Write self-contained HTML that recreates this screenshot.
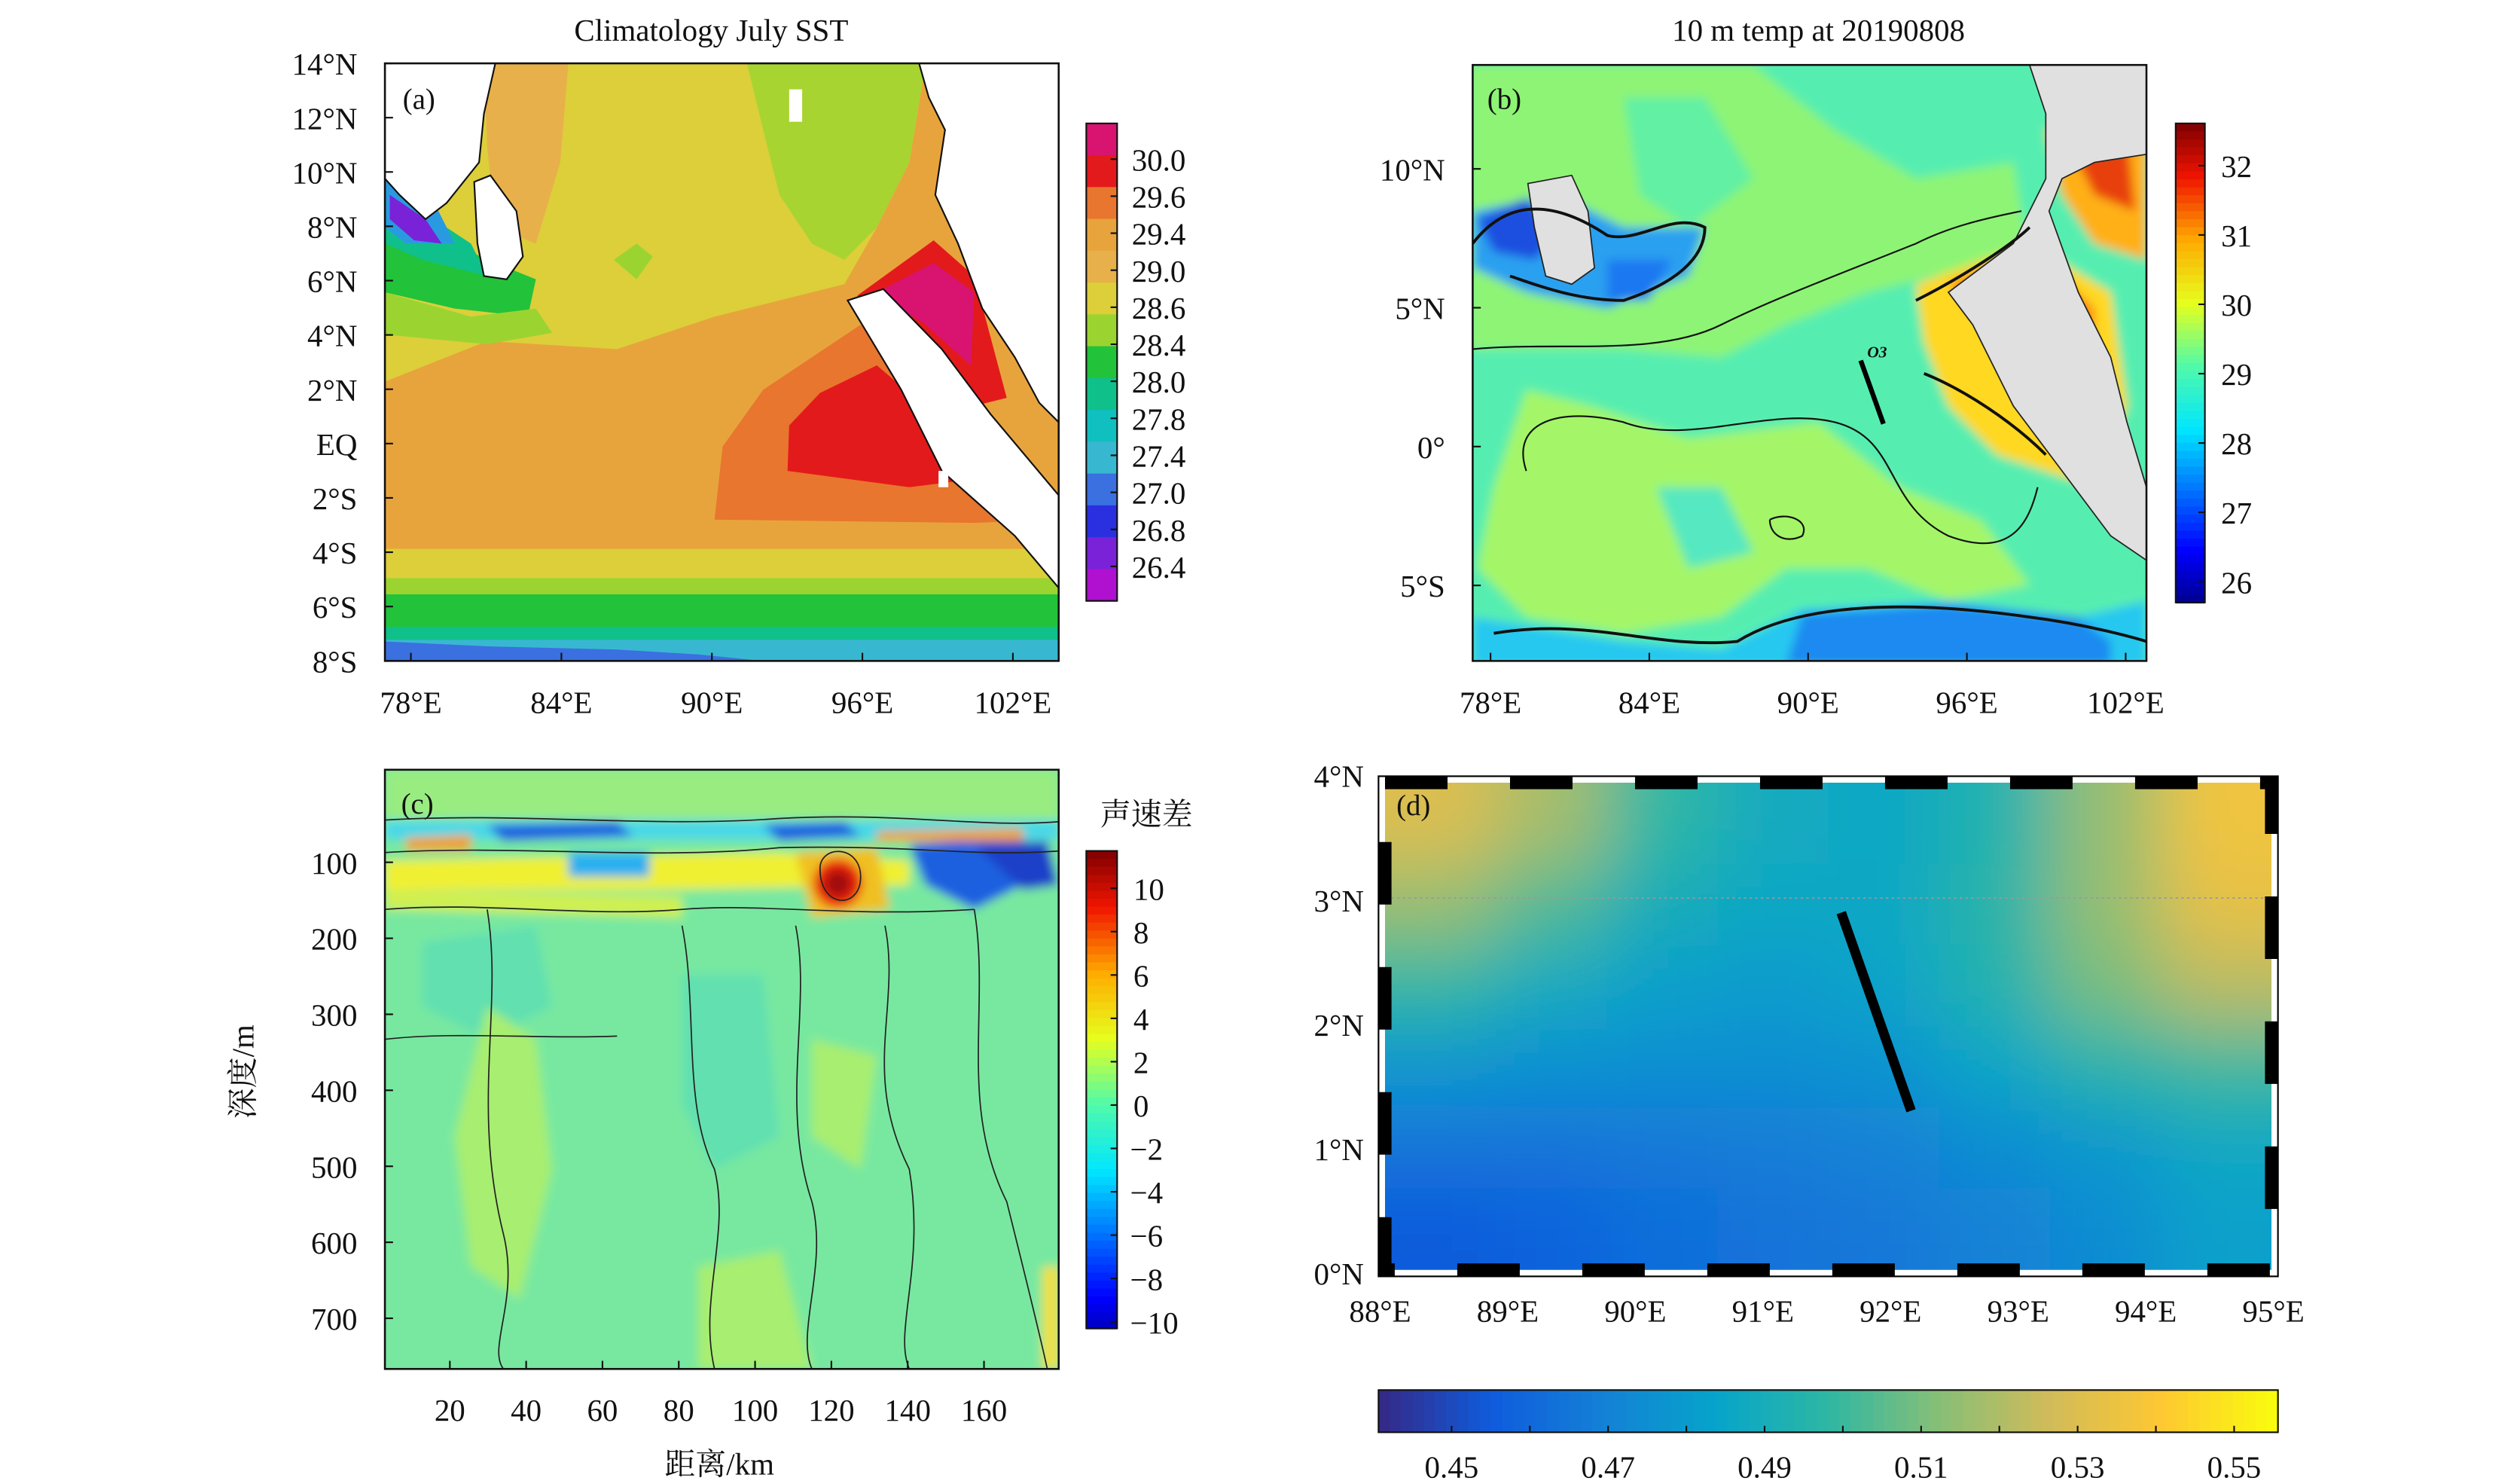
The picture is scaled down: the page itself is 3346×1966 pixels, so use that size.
<!DOCTYPE html>
<html><head><meta charset="utf-8">
<style>
html,body{margin:0;padding:0;background:#fff;}
svg{display:block;}
text{font-family:"Liberation Serif","Noto Serif CJK SC",serif;fill:#111;}
</style></head>
<body>
<svg id="fig" width="3346" height="1966" viewBox="0 0 1552 912" xmlns="http://www.w3.org/2000/svg">
<defs>
<filter id="blurA" x="-5%" y="-5%" width="110%" height="110%"><feGaussianBlur stdDeviation="3"/></filter>
<filter id="blurD" filterUnits="userSpaceOnUse" x="700" y="350" width="850" height="560"><feGaussianBlur stdDeviation="22"/></filter>
<clipPath id="clipA"><rect x="237" y="39" width="415" height="368"/></clipPath>
<clipPath id="clipB"><rect x="907" y="40" width="415" height="367"/></clipPath>
<clipPath id="clipC"><rect x="237" y="474" width="415" height="369"/></clipPath>
<clipPath id="clipD"><rect x="853" y="482" width="546" height="300"/></clipPath>
</defs>

<!-- ============ PANEL A ============ -->
<g id="panelA">
<text x="438" y="25" font-size="19" text-anchor="middle">Climatology July SST</text>
<g clip-path="url(#clipA)">
<rect x="237" y="39" width="415" height="368" fill="#e8a43c"/>
<polygon fill="#dccf3a" points="237,39 570,39 560,100 540,140 520,175 440,195 380,215 300,210 237,235"/>
<polygon fill="#e8b04a" points="298,39 350,39 345,100 330,150 305,140 300,90"/>
<polygon fill="#a8d431" points="460,39 570,39 560,100 540,140 520,160 500,150 480,120 470,80"/>
<polygon fill="#9bd431" points="378,160 392,150 402,158 392,172"/>
<polygon fill="#e8a43c" points="580,80 652,70 652,160 620,150 600,120"/>
<polygon fill="#e8762e" points="440,320 445,275 470,240 530,200 580,240 640,300 652,320 600,322"/>
<polygon fill="#e31a1c" points="485,290 486,262 505,242 540,225 575,255 600,295 560,300"/>
<polygon fill="#e31a1c" points="528,182 575,148 600,170 620,245 600,250"/>
<polygon fill="#d81470" points="540,180 575,162 600,180 598,225 570,200"/>
<polygon fill="#e8762e" points="590,95 620,90 652,130 652,200 630,190"/>
<polygon fill="#e31a1c" points="600,110 625,110 645,150 645,185 620,150"/>
<rect x="237" y="338" width="415" height="20" fill="#dccf3a"/>
<rect x="237" y="356" width="415" height="12" fill="#9bd431"/>
<rect x="237" y="366" width="415" height="22" fill="#22c23a"/>
<rect x="237" y="386" width="415" height="10" fill="#10c08a"/>
<rect x="237" y="394" width="415" height="13" fill="#38b8d0"/>
<polygon fill="#3a70e0" points="237,395 300,398 380,400 430,403 470,407 237,407"/>
<polygon fill="#22c23a" points="237,130 260,140 300,160 330,172 325,195 280,190 237,180"/>
<polygon fill="#9bd431" points="237,180 290,195 330,190 340,205 300,212 237,206"/>
<polygon fill="#10c08a" points="237,115 290,150 300,170 260,160 237,150"/>
<polygon fill="#2a9ae0" points="237,110 270,130 280,150 250,150 237,140"/>
<polygon fill="#7a22d8" points="240,120 262,135 272,150 255,148 240,135"/>
<polygon fill="#fff" stroke="#111" stroke-width="1" points="237,39 305,39 298,70 295,100 275,125 262,135 246,120 237,110"/>
<polygon fill="#fff" stroke="#111" stroke-width="1" points="292,112 302,108 318,130 322,158 312,172 298,170 294,150"/>
<polygon fill="#fff" stroke="#111" stroke-width="1" points="566,39 652,39 652,260 640,248 625,220 605,190 590,150 576,120 582,80 572,60"/>
<polygon fill="#fff" stroke="#111" stroke-width="1" points="522,185 544,178 580,215 610,255 652,305 652,362 625,330 580,290 555,240"/>
<polygon fill="#fff" points="486,55 494,55 494,75 486,75"/>
<polygon fill="#fff" points="578,290 584,290 584,300 578,300"/>
</g>
<rect x="237" y="39" width="415" height="368" fill="none" stroke="#111" stroke-width="1.2"/>
<text x="248" y="67" font-size="18">(a)</text>
<g id="axA"></g>
<g id="cbA"></g>
</g>

<!-- ============ PANEL B ============ -->
<g id="panelB">
<text x="1120" y="25" font-size="19" text-anchor="middle">10 m temp at 20190808</text>
<g clip-path="url(#clipB)">
<g filter="url(#blurA)">
<rect x="890" y="30" width="445" height="390" fill="#56eeb0"/>
<polygon fill="#8ef474" points="960,40 1080,40 1130,80 1180,110 1240,100 1250,160 1190,170 1150,180 1100,200 1060,220 1000,215 920,215 905,215 905,40"/>
<polygon fill="#62f0a4" points="1000,60 1050,60 1080,110 1040,140 1010,120"/>
<polygon fill="#a4f668" points="940,240 980,250 1040,270 1120,260 1170,300 1220,320 1250,360 1200,370 1150,350 1100,350 1060,380 1000,390 940,380 910,350 920,300"/>
<polygon fill="#56e8c0" points="1020,300 1060,300 1080,340 1040,350"/>
<polygon fill="#2aa0f0" points="907,130 960,120 1000,140 1050,140 1040,170 990,190 940,180 907,165"/>
<polygon fill="#1a50e0" points="910,135 940,122 960,145 945,160 920,155"/>
<polygon fill="#1a78f0" points="990,160 1030,160 1015,185 990,185"/>
<polygon fill="#28c8f0" points="907,380 1000,395 1060,400 1110,375 1200,370 1280,380 1322,370 1322,410 907,410"/>
<polygon fill="#1a8af0" points="1110,378 1200,372 1280,380 1300,395 1300,410 1100,410"/>
<polygon fill="#ffd824" points="1180,175 1250,150 1300,180 1310,250 1290,300 1230,280 1200,250 1185,210"/>
<polygon fill="#ff8a10" points="1200,175 1250,150 1290,190 1290,230 1260,240 1230,210"/>
<polygon fill="#e82a10" points="1230,160 1260,150 1285,200 1265,215 1245,190"/>
<polygon fill="#ffb018" points="1260,80 1322,60 1322,160 1290,150 1270,120"/>
<polygon fill="#e84010" points="1275,90 1310,80 1315,130 1290,120"/>
</g>
<polygon fill="#e0e0e0" stroke="#222" stroke-width="0.8" points="941,113 968,108 978,130 982,165 968,175 952,170 945,140"/>
<polygon fill="#e0e0e0" stroke="#222" stroke-width="0.8" points="1250,40 1322,40 1322,95 1290,100 1270,110 1262,130 1280,180 1300,220 1310,260 1322,300 1322,345 1300,330 1270,290 1240,250 1215,200 1200,180 1240,150 1260,110 1260,70"/>
<polygon fill="#e0e0e0" points="1300,40 1322,40 1322,80 1305,70"/>
<g fill="none" stroke="#111" stroke-width="1">
<path d="M907,215 C960,210 1020,220 1060,200 C1090,185 1130,170 1180,150 C1200,140 1220,135 1245,130"/>
<path d="M940,290 C930,260 960,250 1000,260 C1040,275 1090,250 1130,260 C1170,270 1160,310 1200,330 C1240,345 1250,320 1255,300"/>
<path d="M920,390 C980,380 1020,400 1070,395 C1110,370 1180,370 1250,380 C1290,385 1322,395 1322,395" stroke-width="1.8"/>
<path d="M907,150 C930,120 960,125 990,145 C1010,150 1030,130 1050,140 C1050,160 1030,175 1000,185 C970,185 945,175 930,170" stroke-width="1.8"/>
<path d="M1180,185 C1210,170 1240,150 1250,140 M1185,230 C1210,240 1240,260 1260,280" stroke-width="1.8"/>
<path d="M1090,320 C1100,315 1115,320 1110,330 C1100,335 1090,330 1090,320"/>
</g>
<line x1="1146" y1="222" x2="1160" y2="261" stroke="#000" stroke-width="3"/>
<text x="1150" y="220" font-size="10" font-style="italic" font-weight="bold">O3</text>
</g>
<rect x="907" y="40" width="415" height="367" fill="none" stroke="#111" stroke-width="1.2"/>
<text x="916" y="67" font-size="18">(b)</text>
<g id="axB"></g>
<g id="cbB"></g>
</g>

<!-- ============ PANEL C ============ -->
<g id="panelC">
<g clip-path="url(#clipC)">
<g filter="url(#blurA)">
<rect x="225" y="465" width="440" height="390" fill="#78e8a0"/>
<polygon fill="#98ec80" points="237,474 652,474 652,505 237,505"/>
<polygon fill="#62e0b0" points="260,580 330,570 340,620 300,640 260,620"/>
<polygon fill="#62e0b0" points="420,600 470,600 480,700 440,720 420,680"/>
<polygon fill="#a8ee70" points="300,620 330,640 340,720 320,800 290,780 280,700"/>
<polygon fill="#a8ee70" points="430,780 480,770 500,843 430,843"/>
<polygon fill="#a8ee70" points="500,640 540,650 530,720 500,700"/>
<rect x="237" y="505" width="415" height="12" fill="#4ad8e8"/>
<polygon fill="#1a60e0" points="300,508 380,506 390,515 310,518"/>
<polygon fill="#1a60e0" points="470,508 520,506 530,515 480,518"/>
<polygon fill="#1a60e0" points="560,520 630,515 640,540 600,560 570,545"/>
<polygon fill="#1a40c8" points="600,520 645,518 652,545 630,548"/>
<polygon fill="#f0f030" points="237,530 480,525 560,530 560,545 400,548 237,548"/>
<polygon fill="#d0f050" points="237,548 420,552 420,565 237,560"/>
<polygon fill="#f0a020" points="250,516 290,514 290,524 250,524"/>
<polygon fill="#f0a020" points="540,512 630,510 630,518 540,518"/>
<polygon fill="#2ab0f0" points="350,525 400,525 400,540 350,540"/>
<polygon fill="#f0c020" points="490,525 540,522 548,560 500,565"/>
<circle cx="516" cy="544" r="15" fill="#e82010"/>
<circle cx="516" cy="544" r="8" fill="#a00808"/>
<rect x="642" y="780" width="10" height="63" fill="#f0e040"/>
</g>
<g fill="none" stroke="#222" stroke-width="0.8">
<path d="M237,505 C320,500 400,510 480,504 C560,500 600,510 652,506"/>
<path d="M237,525 C320,520 400,530 480,522 C560,520 600,528 652,524"/>
<path d="M237,560 C300,555 360,565 420,560 C470,556 520,565 600,560"/>
<path d="M237,640 C280,635 330,640 380,638"/>
<path d="M300,560 C310,620 290,680 310,760 C320,800 300,830 310,843"/>
<path d="M420,570 C430,620 420,680 440,720 C450,760 430,800 440,843"/>
<path d="M490,570 C500,620 480,680 500,740 C510,780 490,820 500,843"/>
<path d="M545,570 C555,620 530,660 560,720 C570,780 550,820 560,843"/>
<path d="M600,560 C610,620 590,680 620,740 C630,780 640,820 645,843"/>
<path d="M505,535 C505,520 530,520 530,540 C530,560 505,560 505,535"/>
</g>
</g>
<rect x="237" y="474" width="415" height="369" fill="none" stroke="#111" stroke-width="1.2"/>
<text x="247" y="501" font-size="18">(c)</text>
<text x="443" y="908" font-size="19" text-anchor="middle">距离/km</text>
<text x="0" y="0" font-size="19" text-anchor="middle" transform="translate(156,660) rotate(-90)">深度/m</text>
<text x="706" y="508" font-size="19" text-anchor="middle">声速差</text>
<g id="axC"></g>
<g id="cbC"></g>
</g>

<!-- ============ PANEL D ============ -->
<g id="panelD">
<rect x="849" y="478" width="554" height="308" fill="#fff"/>
<g clip-path="url(#clipD)"><g id="heatD" filter="url(#blurD)"></g></g>
<rect x="853" y="482" width="546" height="300" fill="none" stroke="#000" stroke-width="8" stroke-dasharray="38.5 38.5"/>
<rect x="849" y="478" width="554" height="308" fill="none" stroke="#000" stroke-width="1"/>
<line x1="857" y1="553" x2="1395" y2="553" stroke="#999" stroke-width="0.8" stroke-dasharray="1.5 2"/>
<line x1="1134" y1="562" x2="1177" y2="684" stroke="#000" stroke-width="6"/>
<text x="860" y="502" font-size="18">(d)</text>
<g id="axD"></g>
<g id="cbD"></g>
</g>
</svg>

<script>
// ---------- data arrays ----------
const aLonTicks = [78, 84, 90, 96, 102];
const aLatTicks = ["14°N","12°N","10°N","8°N","6°N","4°N","2°N","EQ","2°S","4°S","6°S","8°S"];
const aCbarLabels = ["30.0","29.6","29.4","29.0","28.6","28.4","28.0","27.8","27.4","27.0","26.8","26.4"];
const aCbarColors = ["#d81470","#e31a1c","#e8762e","#e8a43c","#e8b04a","#dccf3a","#9bd431","#22c23a","#10c08a","#10c0c0","#38b8d0","#3a70e0","#2a30e0","#7a22d8","#b010d0"];
const bLonTicks = [78, 84, 90, 96, 102];
const bLatTicks = [10, 5, 0, -5];
const bCbarTicks = [32, 31, 30, 29, 28, 27, 26];
const cDistTicks = [20, 40, 60, 80, 100, 120, 140, 160];
const cDepthTicks = [100, 200, 300, 400, 500, 600, 700];
const cCbarTicks = [10, 8, 6, 4, 2, 0, -2, -4, -6, -8, -10];
const dLonTicks = [88, 89, 90, 91, 92, 93, 94, 95];
const dLatTicks = [4, 3, 2, 1, 0];
const dCbarTicks = [0.45, 0.47, 0.49, 0.51, 0.53, 0.55];
const dCbarMinorTicks = [0.46, 0.48, 0.50, 0.52, 0.54];
const dGrid = [
  [0.530,0.518,0.498,0.488,0.486,0.494,0.515,0.536],
  [0.515,0.503,0.490,0.486,0.486,0.496,0.515,0.533],
  [0.498,0.488,0.482,0.480,0.484,0.494,0.510,0.522],
  [0.478,0.476,0.475,0.475,0.477,0.485,0.495,0.500],
  [0.464,0.464,0.466,0.468,0.470,0.474,0.479,0.486],
  [0.455,0.458,0.462,0.464,0.466,0.470,0.474,0.482]
];

const NS = "http://www.w3.org/2000/svg";
function mk(tag, attrs, parent, txt){
  const e = document.createElementNS(NS, tag);
  for (const k in attrs) e.setAttribute(k, attrs[k]);
  if (txt !== undefined) e.textContent = txt;
  parent.appendChild(e);
  return e;
}
function lerpColor(stops, t){
  t = Math.max(0, Math.min(1, t));
  for (let i = 0; i < stops.length - 1; i++){
    const a = stops[i], b = stops[i+1];
    if (t <= b[0]){
      const u = (t - a[0]) / (b[0] - a[0]);
      const c = [0,1,2].map(j => Math.round(a[1][j] + (b[1][j]-a[1][j])*u));
      return "rgb(" + c.join(",") + ")";
    }
  }
  const l = stops[stops.length-1][1];
  return "rgb(" + l.join(",") + ")";
}
const jet = [[0,[0,0,130]],[0.12,[0,0,255]],[0.37,[0,230,255]],[0.5,[80,250,170]],[0.63,[230,255,30]],[0.76,[255,170,0]],[0.89,[240,20,0]],[1,[128,0,0]]];
const parula = [[0,[53,42,135]],[0.125,[15,92,221]],[0.25,[20,129,214]],[0.375,[6,164,202]],[0.5,[46,183,164]],[0.625,[135,191,119]],[0.75,[209,187,89]],[0.875,[254,200,50]],[1,[249,251,14]]];

// ---------- axis functions ----------
const xA = lon => 253 + (lon - 78) * 15.45;
const yA = i => 39 + i * 33.45;
const xB = lon => 918 + (lon - 78) * 16.3;
const yB = lat => 275 - lat * 17.1;
const xC = d => 277 + (d - 20) * 2.35;
const yC = z => 531 + (z - 100) * 0.468;
const xD = lon => 850 + (lon - 88) * 78.6;
const yD = lat => 784 - lat * 76.6;
const xDc = v => 894 + (v - 0.45) * 4820;

function tickText(g, x, y, s, anchor, name){
  const t = mk("text", {x:x, y:y, "font-size":19, "text-anchor":anchor}, g, s);
  
  
  return t;
}

// Panel A axes
(function(){
  const g = document.getElementById("axA");
  aLonTicks.forEach(v => {
    mk("line", {x1:xA(v), y1:407, x2:xA(v), y2:402, stroke:"#111"}, g);
    tickText(g, xA(v), 439, v + "°E", "middle", "x-tick-label");
  });
  aLatTicks.forEach((s, i) => {
    mk("line", {x1:237, y1:yA(i), x2:242, y2:yA(i), stroke:"#111"}, g);
    tickText(g, 220, yA(i) + 7, s, "end", "y-tick-label");
  });
  const cb = document.getElementById("cbA");
  const top = 76, bot = 370, n = aCbarColors.length, h = (bot - top) / n;
  aCbarColors.forEach((c, i) => {
    const r = mk("rect", {x:669, y:top + i*h, width:19, height:h + 0.5, fill:c}, cb);
    
    
  });
  mk("rect", {x:669, y:top, width:19, height:bot-top, fill:"none", stroke:"#111"}, cb);
  aCbarLabels.forEach((s, i) => {
    const y = 98 + i * 22.8;
    mk("line", {x1:684, y1:y, x2:688, y2:y, stroke:"#111"}, cb);
    tickText(cb, 697, y + 7, s, "start", "colorbar-tick-label");
  });
})();

// Panel B axes
(function(){
  const g = document.getElementById("axB");
  bLonTicks.forEach(v => {
    mk("line", {x1:xB(v), y1:407, x2:xB(v), y2:402, stroke:"#111"}, g);
    tickText(g, xB(v), 439, v + "°E", "middle", "x-tick-label");
  });
  bLatTicks.forEach(v => {
    mk("line", {x1:907, y1:yB(v), x2:912, y2:yB(v), stroke:"#111"}, g);
    const s = v > 0 ? v + "°N" : (v < 0 ? (-v) + "°S" : "0°");
    tickText(g, 890, yB(v) + 7, s, "end", "y-tick-label");
  });
  const cb = document.getElementById("cbB");
  const top = 76, bot = 371, N = 60;
  const yv = v => 102 + (32 - v) * 42.7;
  for (let i = 0; i < N; i++){
    const y0 = top + (bot-top)*i/N;
    const v = 32 + (102 - (y0 + (bot-top)/N/2)) / 42.7;
    const r = mk("rect", {x:1340, y:y0, width:18, height:(bot-top)/N + 0.6, fill:lerpColor(jet, (v - 25.6) / 7.0)}, cb);
    
    
  }
  mk("rect", {x:1340, y:top, width:18, height:bot-top, fill:"none", stroke:"#111"}, cb);
  bCbarTicks.forEach(v => {
    mk("line", {x1:1354, y1:yv(v), x2:1358, y2:yv(v), stroke:"#111"}, cb);
    tickText(cb, 1368, yv(v) + 7, String(v), "start", "colorbar-tick-label");
  });
})();

// Panel C axes
(function(){
  const g = document.getElementById("axC");
  cDistTicks.forEach(v => {
    mk("line", {x1:xC(v), y1:843, x2:xC(v), y2:838, stroke:"#111"}, g);
    tickText(g, xC(v), 875, String(v), "middle", "x-tick-label");
  });
  cDepthTicks.forEach(v => {
    mk("line", {x1:237, y1:yC(v), x2:242, y2:yC(v), stroke:"#111"}, g);
    tickText(g, 220, yC(v) + 7, String(v), "end", "y-tick-label");
  });
  const cb = document.getElementById("cbC");
  const top = 524, bot = 818, N = 60;
  const yv = v => 547 + (10 - v) * 13.35;
  for (let i = 0; i < N; i++){
    const y0 = top + (bot-top)*i/N;
    const v = 10 - ((y0 + (bot-top)/N/2) - 547) / 13.35;
    const r = mk("rect", {x:669, y:y0, width:19, height:(bot-top)/N + 0.6, fill:lerpColor(jet, (v + 11.7) / 23.4)}, cb);
    
    
  }
  mk("rect", {x:669, y:top, width:19, height:bot-top, fill:"none", stroke:"#111"}, cb);
  cCbarTicks.forEach(v => {
    mk("line", {x1:684, y1:yv(v), x2:688, y2:yv(v), stroke:"#111"}, cb);
    const s = v < 0 ? "\u2212" + (-v) : String(v);
    tickText(cb, v < 0 ? 696 : 698, yv(v) + 7, s, "start", "colorbar-tick-label");
  });
})();

// Panel D heatmap + axes
(function(){
  const h = document.getElementById("heatD");
  const rows = dGrid.length, cols = dGrid[0].length;
  const x0 = 853, x1 = 1399, y0 = 482, y1 = 782;
  const cw = (x1 - x0) / cols, ch = (y1 - y0) / rows;
  dGrid.forEach((row, r) => row.forEach((v, c) => {
    const ex0 = c === 0 ? -80 : 0, ex1 = c === cols - 1 ? 80 : 0;
    const ey0 = r === 0 ? -80 : 0, ey1 = r === rows - 1 ? 80 : 0;
    const cell = mk("rect", {x:x0 + c*cw + ex0, y:y0 + r*ch + ey0, width:cw + 0.5 - ex0 + ex1, height:ch + 0.5 - ey0 + ey1, fill:lerpColor(parula, (v - 0.441) / 0.114)}, h);
    
    
  }));
  const g = document.getElementById("axD");
  dLonTicks.forEach(v => {
    tickText(g, xD(v), 814, v + "°E", "middle", "x-tick-label");
  });
  dLatTicks.forEach(v => {
    tickText(g, 840, yD(v) + 7, v + "°N", "end", "y-tick-label");
  });
  const cb = document.getElementById("cbD");
  const N = 80, L = 849, R = 1403;
  for (let i = 0; i < N; i++){
    const xx = L + (R-L)*i/N;
    const v = 0.45 + ((xx + (R-L)/N/2) - 894) / 4820;
    const r = mk("rect", {x:xx, y:856, width:(R-L)/N + 0.6, height:26, fill:lerpColor(parula, (v - 0.441) / 0.114)}, cb);
    
    
  }
  mk("rect", {x:L, y:856, width:R-L, height:26, fill:"none", stroke:"#111"}, cb);
  dCbarTicks.forEach(v => {
    mk("line", {x1:xDc(v), y1:878, x2:xDc(v), y2:882, stroke:"#111"}, cb);
    tickText(cb, xDc(v), 910, v.toFixed(2), "middle", "colorbar-tick-label");
  });
  dCbarMinorTicks.forEach(v => {
    mk("line", {x1:xDc(v), y1:878, x2:xDc(v), y2:882, stroke:"#111"}, cb);
  });
})();
</script>
</body></html>
